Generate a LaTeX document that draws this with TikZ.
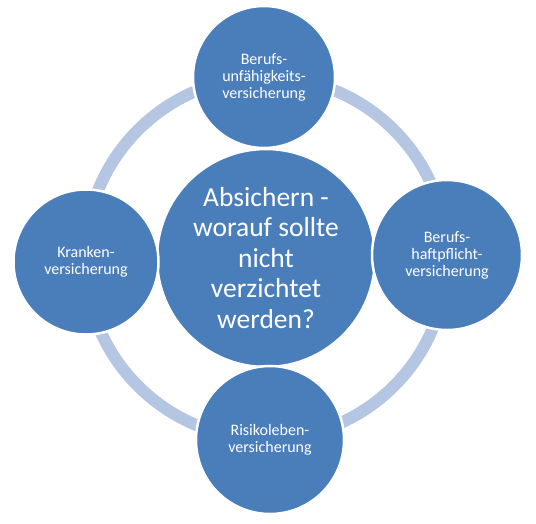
\documentclass[tikz,border=0pt]{standalone}
\usepackage{fontspec}
\setmainfont{Carlito}
\begin{document}
\begin{tikzpicture}[x=1pt,y=-1pt,
  ringcol/.style={draw=ringblue,line width=12pt},
  bigc/.style={circle,fill=mainblue,draw=white,line width=2.5pt,inner sep=0pt,text=white,align=center,minimum size=218pt,font=\fontsize{27.5}{30.5}\selectfont},
  smallc/.style={circle,fill=mainblue,draw=white,line width=2.5pt,inner sep=0pt,text=white,align=center,minimum size=146pt,font=\fontsize{16}{17}\selectfont}]
\definecolor{mainblue}{HTML}{4A7EBB}
\definecolor{ringblue}{HTML}{B4C6E1}
\useasboundingbox (0,0) rectangle (536,523);
\coordinate (ringc) at (266,258);
\draw[ringcol] (ringc) circle[radius=181];
\node[bigc] (center) at (266,258) {Absichern -\\worauf sollte\\nicht\\verzichtet\\werden?};
\node[smallc,minimum size=142pt] (top) at (264,77) {Berufs-\\unfähigkeits-\\versicherung};
\node[smallc,minimum size=150pt] (right) at (447,255) {Berufs-\\haftpflicht-\\versicherung};
\node[smallc,minimum size=145pt] (left) at (86,262) {Kranken-\\versicherung};
\node[smallc,minimum size=148pt] (bottom) at (270,440) {Risikoleben-\\versicherung};
\end{tikzpicture}
\end{document}
